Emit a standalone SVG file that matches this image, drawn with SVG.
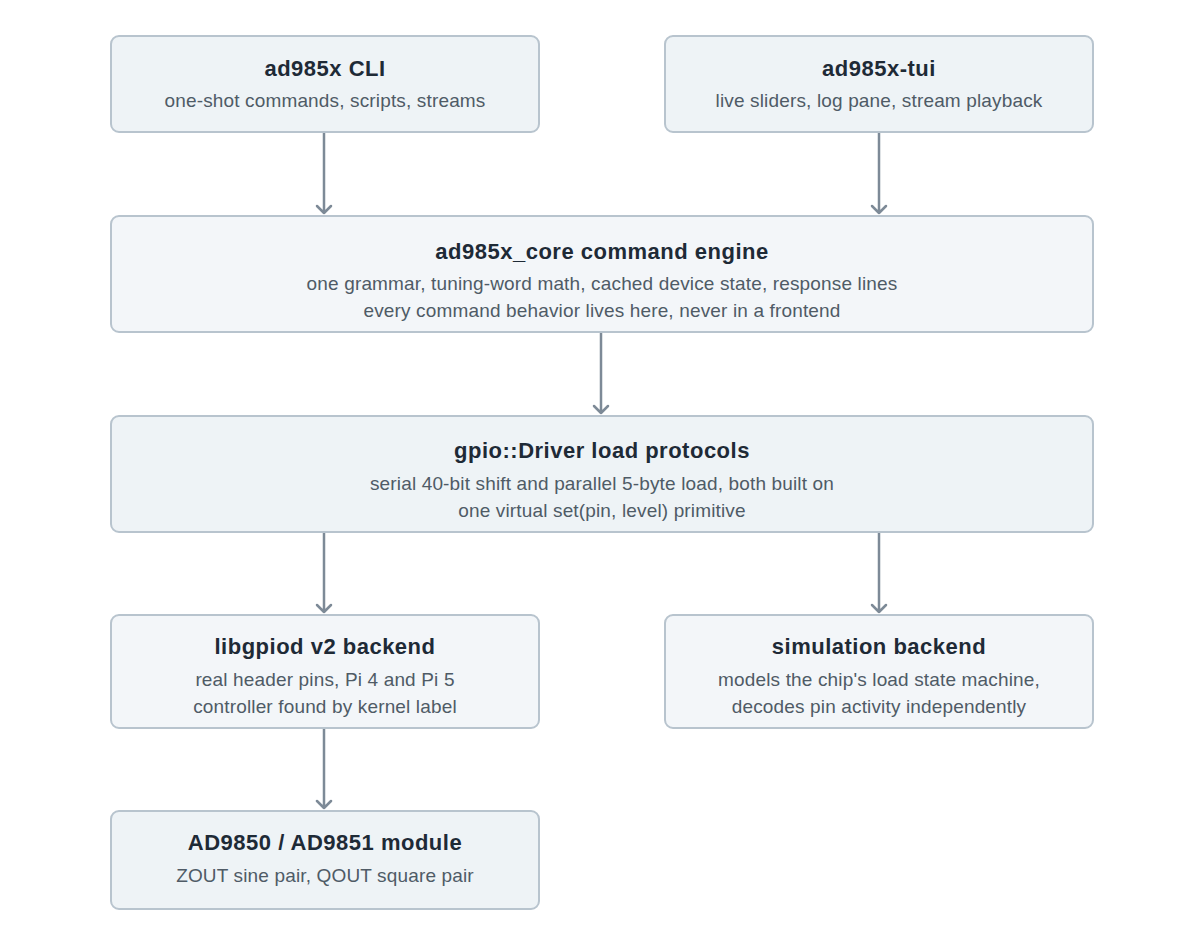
<svg xmlns="http://www.w3.org/2000/svg" width="1203" height="950" viewBox="0 0 1203 950">
<defs>
<style>
.box{stroke:#b8c4ce;stroke-width:2}
.a{fill:#eef3f6}
.b{fill:#f3f6f9}
.t{font-family:"Liberation Sans",Arial,sans-serif;font-weight:bold;font-size:22px;letter-spacing:0.5px;fill:#1e2a36;text-anchor:middle}
.s{font-family:"Liberation Sans",Arial,sans-serif;font-size:19px;letter-spacing:0.15px;fill:#4f5b66;text-anchor:middle}
</style>
</defs>
<rect width="1203" height="950" fill="#ffffff"/>
<g id="connectors" stroke="#7d8a97" stroke-width="2.5" fill="none" stroke-linecap="round" stroke-linejoin="round">
<path d="M324 133 V213 M317 206 L324 213 L331 206"/>
<path d="M879 133 V213 M872 206 L879 213 L886 206"/>
<path d="M601 333 V413 M594 406 L601 413 L608 406"/>
<path d="M324 533 V612 M317 605 L324 612 L331 605"/>
<path d="M879 533 V612 M872 605 L879 612 L886 605"/>
<path d="M324 729 V808 M317 801 L324 808 L331 801"/>
</g>
<g id="cli">
<rect class="box a" x="111" y="36" width="428" height="96" rx="8"/>
<text class="t" x="325" y="76">ad985x CLI</text>
<text class="s" x="325" y="107">one-shot commands, scripts, streams</text>
</g>
<g id="tui">
<rect class="box a" x="665" y="36" width="428" height="96" rx="8"/>
<text class="t" x="879" y="76">ad985x-tui</text>
<text class="s" x="879" y="107">live sliders, log pane, stream playback</text>
</g>
<g id="core">
<rect class="box b" x="111" y="216" width="982" height="116" rx="8"/>
<text class="t" x="602" y="259">ad985x_core command engine</text>
<text class="s" x="602" y="290">one grammar, tuning-word math, cached device state, response lines</text>
<text class="s" x="602" y="317">every command behavior lives here, never in a frontend</text>
</g>
<g id="gpio">
<rect class="box a" x="111" y="416" width="982" height="116" rx="8"/>
<text class="t" x="602" y="458">gpio::Driver load protocols</text>
<text class="s" x="602" y="490">serial 40-bit shift and parallel 5-byte load, both built on</text>
<text class="s" x="602" y="517">one virtual set(pin, level) primitive</text>
</g>
<g id="libgpiod">
<rect class="box b" x="111" y="615" width="428" height="113" rx="8"/>
<text class="t" x="325" y="654">libgpiod v2 backend</text>
<text class="s" x="325" y="686">real header pins, Pi 4 and Pi 5</text>
<text class="s" x="325" y="713">controller found by kernel label</text>
</g>
<g id="sim">
<rect class="box b" x="665" y="615" width="428" height="113" rx="8"/>
<text class="t" x="879" y="654">simulation backend</text>
<text class="s" x="879" y="686">models the chip's load state machine,</text>
<text class="s" x="879" y="713">decodes pin activity independently</text>
</g>
<g id="module">
<rect class="box a" x="111" y="811" width="428" height="98" rx="8"/>
<text class="t" x="325" y="850">AD9850 / AD9851 module</text>
<text class="s" x="325" y="882">ZOUT sine pair, QOUT square pair</text>
</g>
</svg>
